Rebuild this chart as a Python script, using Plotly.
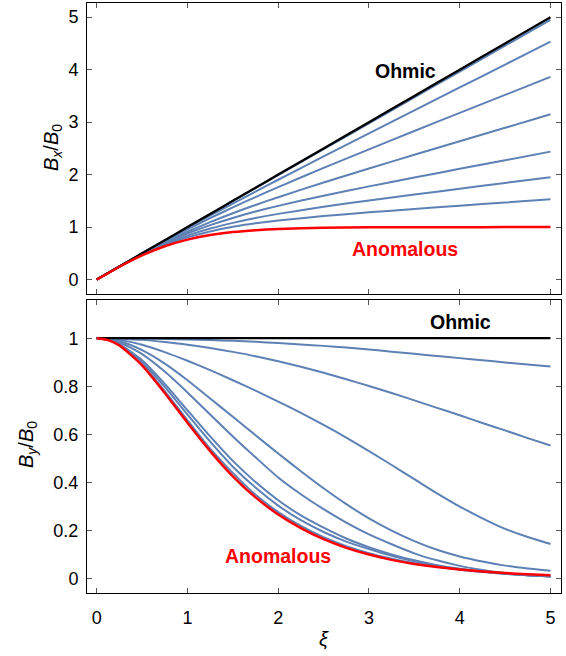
import plotly.graph_objects as go

# ---------------- data ----------------
# top panel: Bx/B0
xi_top = [0, 0.25, 0.5, 0.75, 1, 1.25, 1.5, 1.75, 2, 2.5, 3, 3.5, 4, 4.5, 5]
bx_ohmic = [0, 0.25, 0.5, 0.75, 1, 1.25, 1.5, 1.75, 2, 2.5, 3, 3.5, 4, 4.5, 5]
bx_anomalous = [0, 0.245, 0.462, 0.635, 0.762, 0.848, 0.905, 0.941, 0.964, 0.987, 0.995, 0.998, 0.999, 1.0, 1.0]
bx_c1 = [0, 0.246, 0.470, 0.657, 0.805, 0.918, 1.005, 1.072, 1.125, 1.211, 1.281, 1.345, 1.408, 1.469, 1.530]
bx_c2 = [0, 0.247, 0.475, 0.673, 0.838, 0.972, 1.081, 1.173, 1.252, 1.387, 1.507, 1.620, 1.731, 1.841, 1.950]
bx_c3 = [0, 0.248, 0.482, 0.693, 0.878, 1.037, 1.175, 1.296, 1.405, 1.599, 1.776, 1.945, 2.111, 2.275, 2.438]
bx_c4 = [0, 0.248, 0.487, 0.709, 0.912, 1.096, 1.265, 1.422, 1.570, 1.849, 2.116, 2.377, 2.635, 2.892, 3.149]
bx_c5 = [0, 0.249, 0.494, 0.730, 0.955, 1.170, 1.376, 1.572, 1.762, 2.128, 2.482, 2.831, 3.176, 3.519, 3.862]
bx_c6 = [0, 0.250, 0.497, 0.742, 0.982, 1.217, 1.449, 1.677, 1.902, 2.347, 2.787, 3.225, 3.661, 4.096, 4.532]
bx_c7 = [0, 0.250, 0.500, 0.749, 0.998, 1.247, 1.495, 1.742, 1.990, 2.484, 2.977, 3.470, 3.964, 4.457, 4.950]

# bottom panel: By/B0
xi_bot = [0, 0.125, 0.25, 0.5, 0.75, 1, 1.25, 1.5, 1.75, 2, 2.25, 2.5,
          2.75, 3, 3.25, 3.5, 3.75, 4, 4.25, 4.5, 4.75, 5]
by_ohmic = [1] * 22
by_anomalous = [1, 0.992, 0.970, 0.887, 0.772, 0.648, 0.530, 0.425, 0.337, 0.266, 0.209, 0.163,
                0.127, 0.099, 0.077, 0.060, 0.047, 0.037, 0.029, 0.022, 0.017, 0.013]
by_c1 = [1, 0.993, 0.971, 0.891, 0.780, 0.658, 0.540, 0.439, 0.348, 0.276, 0.218, 0.171,
         0.134, 0.105, 0.082, 0.063, 0.048, 0.036, 0.026, 0.019, 0.013, 0.009]
by_c2 = [1, 0.993, 0.973, 0.900, 0.797, 0.682, 0.569, 0.465, 0.378, 0.303, 0.242, 0.193,
         0.153, 0.122, 0.094, 0.071, 0.053, 0.039, 0.028, 0.020, 0.013, 0.009]
by_c3 = [1, 0.994, 0.975, 0.908, 0.810, 0.700, 0.591, 0.489, 0.401, 0.325, 0.262, 0.211,
         0.166, 0.130, 0.100, 0.075, 0.055, 0.040, 0.028, 0.019, 0.013, 0.008]
by_c4 = [1, 0.996, 0.983, 0.934, 0.861, 0.774, 0.682, 0.591, 0.504, 0.420, 0.350, 0.288,
         0.232, 0.183, 0.142, 0.104, 0.075, 0.052, 0.035, 0.022, 0.013, 0.008]
by_c5 = [1, 0.997, 0.988, 0.950, 0.894, 0.825, 0.749, 0.673, 0.596, 0.520, 0.446, 0.375,
         0.309, 0.250, 0.199, 0.155, 0.119, 0.091, 0.070, 0.053, 0.041, 0.032]
by_c6 = [1, 0.998, 0.993, 0.973, 0.942, 0.906, 0.867, 0.825, 0.782, 0.736, 0.689, 0.639,
         0.586, 0.530, 0.472, 0.413, 0.354, 0.299, 0.250, 0.206, 0.172, 0.143]
by_c7 = [1, 0.9995, 0.998, 0.993, 0.984, 0.973, 0.959, 0.943, 0.925, 0.904, 0.881, 0.856,
         0.829, 0.801, 0.772, 0.741, 0.710, 0.679, 0.647, 0.616, 0.584, 0.553]
by_c8 = [1, 1.0, 1.0, 0.999, 0.997, 0.995, 0.992, 0.989, 0.985, 0.980, 0.974, 0.968,
         0.961, 0.953, 0.944, 0.935, 0.926, 0.917, 0.908, 0.899, 0.890, 0.882]

x_ticks = [0, 1, 2, 3, 4, 5]
x_ticklabels = ["0", "1", "2", "3", "4", "5"]
bx_ticks = [0, 1, 2, 3, 4, 5]
bx_ticklabels = ["0", "1", "2", "3", "4", "5"]
by_ticks = [0, 0.2, 0.4, 0.6, 0.8, 1.0]
by_ticklabels = ["0", "0.2", "0.4", "0.6", "0.8", "1"]

# ---------------- styling ----------------
BLUE = "#5E81B5"
RED = "#FF0000"
BLACK = "#000000"
FONT = "Liberation Sans, Arial, Helvetica, sans-serif"

fig = go.Figure()


def add(x, y, color, width, xa, ya):
    fig.add_trace(go.Scatter(
        x=x, y=y, mode="lines", xaxis=xa, yaxis=ya,
        line=dict(color=color, width=width, shape="spline", smoothing=0.6),
        hoverinfo="skip", showlegend=False))


for c in [bx_c1, bx_c2, bx_c3, bx_c4, bx_c5, bx_c6, bx_c7]:
    add(xi_top, c, BLUE, 2, "x", "y")
add(xi_top, bx_ohmic, BLACK, 2.3, "x", "y")
add(xi_top, bx_anomalous, RED, 2.5, "x", "y")

for c in [by_c1, by_c2, by_c3, by_c4, by_c5, by_c6, by_c7, by_c8]:
    add(xi_bot, c, BLUE, 2, "x2", "y2")
add(xi_bot, by_ohmic, BLACK, 2.3, "x2", "y2")
add(xi_bot, by_anomalous, RED, 2.5, "x2", "y2")

axis_common = dict(
    showgrid=False, zeroline=False, showline=True, linecolor=BLACK, linewidth=1,
    mirror="allticks", ticks="inside", ticklen=5, tickwidth=1, tickcolor="#555555",
    tickfont=dict(family=FONT, size=18, color=BLACK),
)

XR = [-0.107, 5.116]
top_dom = [0.5063, 1.0]
bot_dom = [0.0, 0.4966]

fig.update_layout(
    width=566, height=656,
    margin=dict(l=87, r=5, t=3, b=63),
    paper_bgcolor="white", plot_bgcolor="white",
    font=dict(family=FONT, color=BLACK),
    xaxis=dict(axis_common, range=XR, domain=[0, 1], anchor="y",
               tickvals=x_ticks, ticktext=x_ticklabels, showticklabels=False),
    yaxis=dict(axis_common, range=[-0.28, 5.27], domain=top_dom, anchor="x",
               tickvals=bx_ticks, ticktext=bx_ticklabels, ticklabelstandoff=4),
    xaxis2=dict(axis_common, range=XR, domain=[0, 1], anchor="y2",
                tickvals=x_ticks, ticktext=x_ticklabels, ticklabelstandoff=8),
    yaxis2=dict(axis_common, range=[-0.061, 1.159], domain=bot_dom, anchor="x2",
                tickvals=by_ticks, ticktext=by_ticklabels, ticklabelstandoff=4),
)

lab = dict(family=FONT, size=19.5)
fig.add_annotation(x=3.40, y=3.97, xref="x", yref="y", text="<b>Ohmic</b>",
                   showarrow=False, font=dict(lab, color=BLACK))
fig.add_annotation(x=3.40, y=0.59, xref="x", yref="y", text="<b>Anomalous</b>",
                   showarrow=False, font=dict(lab, color=RED))
fig.add_annotation(x=4.01, y=1.066, xref="x2", yref="y2", text="<b>Ohmic</b>",
                   showarrow=False, font=dict(lab, color=BLACK))
fig.add_annotation(x=2.0, y=0.095, xref="x2", yref="y2", text="<b>Anomalous</b>",
                   showarrow=False, font=dict(lab, color=RED))

# axis titles (positions given in pixels, converted to paper coordinates below)
title_font = dict(family=FONT, size=20, color=BLACK)
fig.add_annotation(x=52, y=148, xref="paper", yref="paper",
                   text="<i>B</i><sub><i>x</i></sub>/<i>B</i><sub>0</sub>",
                   showarrow=False, textangle=-90, xanchor="center", yanchor="middle",
                   font=title_font)
fig.add_annotation(x=27, y=444, xref="paper", yref="paper",
                   text="<i>B</i><sub><i>y</i></sub>/<i>B</i><sub>0</sub>",
                   showarrow=False, textangle=-90, xanchor="center", yanchor="middle",
                   font=title_font)
fig.add_annotation(x=324, y=639, xref="paper", yref="paper", text="<i>ξ</i>",
                   showarrow=False, xanchor="center", yanchor="middle",
                   font=dict(family=FONT, size=20, color=BLACK))

W, H, L, R, T, B = 566, 656, 87, 5, 3, 63
pw, ph = W - L - R, H - T - B
for a in fig.layout.annotations:
    if a.xref == "paper":
        a.x = (a.x - L) / pw
        a.y = (H - B - a.y) / ph

fig.write_html("out.html", config={"displayModeBar": False},
               post_script="document.body.style.margin='0px';")
